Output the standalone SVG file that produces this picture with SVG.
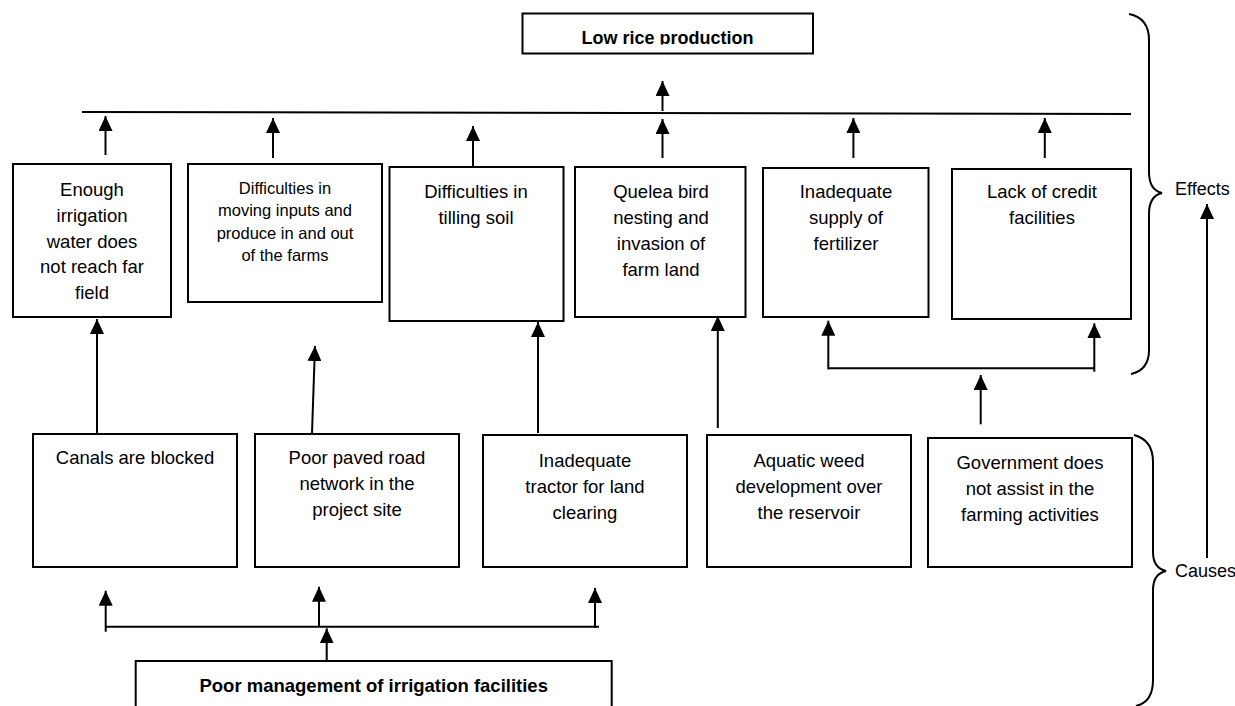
<svg xmlns="http://www.w3.org/2000/svg" width="1235" height="706" viewBox="0 0 1235 706">
<style>
.box{fill:#fff;stroke:#000;stroke-width:2}
.t{font-family:"Liberation Sans",Arial,sans-serif;font-size:18.5px;fill:#000;text-anchor:middle}
.s{font-size:16.5px}
.b{font-weight:bold;font-size:18px}
.side{font-family:"Liberation Sans",Arial,sans-serif;font-size:18px;fill:#000}
.ln{stroke:#000;stroke-width:2;fill:none}
.ar{stroke:#000;stroke-width:2;fill:none;marker-end:url(#ah)}
</style>
<defs>
<marker id="ah" markerUnits="userSpaceOnUse" markerWidth="15" markerHeight="14" refX="15" refY="7" orient="auto">
<path d="M0,0 L15,7 L0,14 z" fill="#000"/>
</marker>
<clipPath id="clipTitle"><rect x="520" y="0" width="300" height="44.5"/></clipPath>
</defs>
<rect x="0" y="0" width="1235" height="706" fill="#fff"/>

<g id="connectors">
<line class="ln" x1="82" y1="112" x2="1131" y2="114"/>
<line class="ar" x1="105.5" y1="155" x2="105.5" y2="116"/>
<line class="ar" x1="273" y1="158" x2="273" y2="118"/>
<line class="ar" x1="473" y1="166" x2="473" y2="126"/>
<line class="ar" x1="662.5" y1="158" x2="662.5" y2="119"/>
<line class="ar" x1="853.4" y1="158" x2="853.4" y2="118"/>
<line class="ar" x1="1044.8" y1="158" x2="1044.8" y2="118"/>
<line class="ar" x1="662.5" y1="111" x2="662.5" y2="81"/>
<line class="ar" x1="97" y1="433" x2="97" y2="319"/>
<line class="ar" x1="312" y1="433" x2="315" y2="346"/>
<line class="ar" x1="538" y1="433" x2="538" y2="322"/>
<line class="ar" x1="717.8" y1="428" x2="717.8" y2="316"/>
<line class="ln" x1="828.3" y1="368.3" x2="1094.3" y2="368.3"/>
<line class="ar" x1="828.3" y1="369.3" x2="828.3" y2="320.7"/>
<line class="ar" x1="1094.3" y1="371.7" x2="1094.3" y2="323.3"/>
<line class="ar" x1="980.7" y1="424.3" x2="980.7" y2="375"/>
<line class="ar" x1="1207" y1="558" x2="1207" y2="204"/>
<line class="ln" x1="105.7" y1="626.7" x2="599" y2="626.7"/>
<line class="ar" x1="105.7" y1="631.7" x2="105.7" y2="590.7"/>
<line class="ar" x1="319" y1="626.7" x2="319" y2="586.7"/>
<line class="ar" x1="595" y1="628" x2="595" y2="588"/>
<line class="ar" x1="326.7" y1="669" x2="326.7" y2="628.3"/>
<path class="ln" d="M1129,14 Q1149,18 1149,40 L1149,172 Q1149,190 1162,193 Q1149,196 1149,214 L1149,350 Q1149,370 1131,374"/>
<path class="ln" d="M1134,435 Q1153,440 1153,462 L1153,552 Q1153,568 1166,571 Q1153,574 1153,590 L1153,680 Q1153,702 1136,706"/>
</g>

<g id="title">
<rect class="box" x="522.5" y="13.5" width="290.5" height="40"/>
<text class="t b" x="667.5" y="44" clip-path="url(#clipTitle)">Low rice production</text>
</g>

<g id="effect1">
<rect class="box" x="13" y="164" width="158" height="153"/>
<text class="t" x="92" y="196">Enough</text>
<text class="t" x="92" y="222">irrigation</text>
<text class="t" x="92" y="247.5">water does</text>
<text class="t" x="92" y="273">not reach far</text>
<text class="t" x="92" y="299">field</text>
</g>

<g id="effect2">
<rect class="box" x="188" y="164" width="194" height="138"/>
<text class="t s" x="285" y="193.5">Difficulties in</text>
<text class="t s" x="285" y="216">moving inputs and</text>
<text class="t s" x="285" y="238.5">produce in and out</text>
<text class="t s" x="285" y="261">of the farms</text>
</g>

<g id="effect3">
<rect class="box" x="389.5" y="167" width="174" height="154"/>
<text class="t" x="476" y="198">Difficulties in</text>
<text class="t" x="476" y="224">tilling soil</text>
</g>

<g id="effect4">
<rect class="box" x="575" y="167" width="170.5" height="150"/>
<text class="t" x="661" y="198">Quelea bird</text>
<text class="t" x="661" y="224">nesting and</text>
<text class="t" x="661" y="250">invasion of</text>
<text class="t" x="661" y="276">farm land</text>
</g>

<g id="effect5">
<rect class="box" x="763" y="168" width="165.5" height="149"/>
<text class="t" x="846" y="198">Inadequate</text>
<text class="t" x="846" y="224">supply of</text>
<text class="t" x="846" y="250">fertilizer</text>
</g>

<g id="effect6">
<rect class="box" x="952" y="169" width="179" height="150"/>
<text class="t" x="1042" y="198">Lack of credit</text>
<text class="t" x="1042" y="224">facilities</text>
</g>

<g id="cause1">
<rect class="box" x="33" y="434" width="204" height="133"/>
<text class="t" x="135" y="464">Canals are blocked</text>
</g>

<g id="cause2">
<rect class="box" x="255" y="434" width="204" height="133"/>
<text class="t" x="357" y="464">Poor paved road</text>
<text class="t" x="357" y="490">network in the</text>
<text class="t" x="357" y="516">project site</text>
</g>

<g id="cause3">
<rect class="box" x="483" y="435" width="204" height="132"/>
<text class="t" x="585" y="467">Inadequate</text>
<text class="t" x="585" y="493">tractor for land</text>
<text class="t" x="585" y="519">clearing</text>
</g>

<g id="cause4">
<rect class="box" x="707" y="435" width="204" height="132"/>
<text class="t" x="809" y="467">Aquatic weed</text>
<text class="t" x="809" y="493">development over</text>
<text class="t" x="809" y="519">the reservoir</text>
</g>

<g id="cause5">
<rect class="box" x="928" y="438" width="204" height="129"/>
<text class="t" x="1030" y="469">Government does</text>
<text class="t" x="1030" y="495">not assist in the</text>
<text class="t" x="1030" y="521">farming activities</text>
</g>

<g id="root">
<rect class="box" x="135.7" y="661" width="476" height="60"/>
<text class="t b" x="373.7" y="691.7" style="font-size:18.5px">Poor management of irrigation facilities</text>
</g>

<g id="labels">
<text class="side" x="1175" y="195">Effects</text>
<text class="side" x="1175" y="577">Causes</text>
</g>
</svg>
